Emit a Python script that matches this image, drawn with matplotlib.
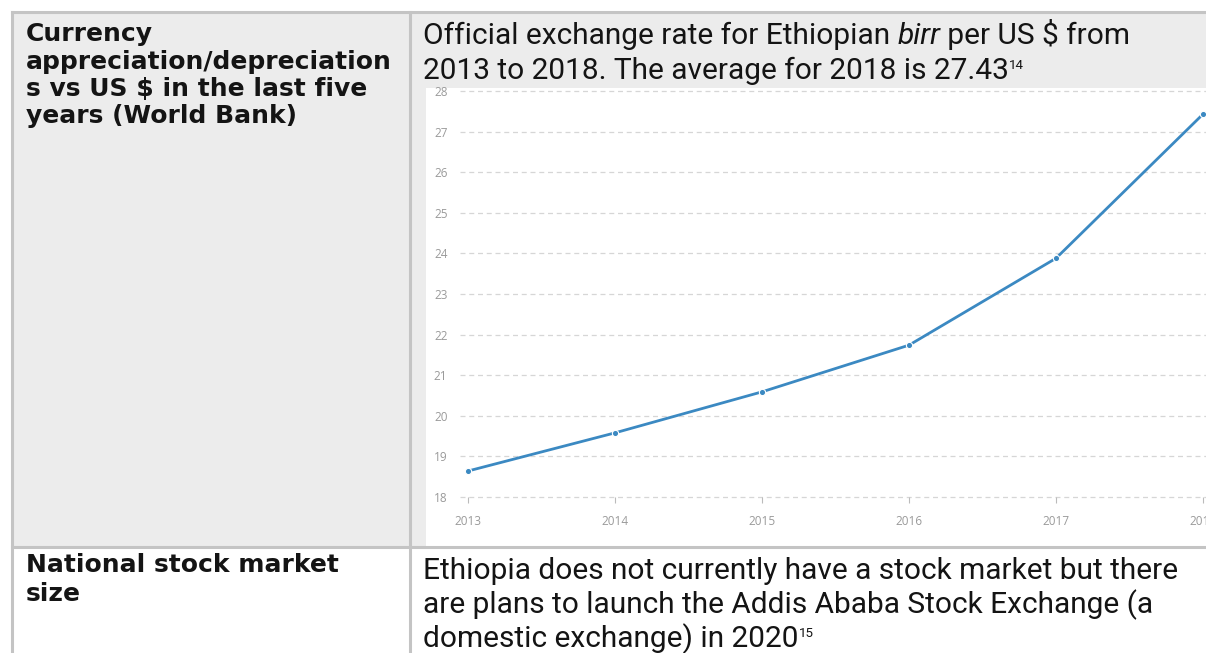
import matplotlib.pyplot as plt
from matplotlib.patches import Rectangle

years = [2013, 2014, 2015, 2016, 2017, 2018]
birr_per_usd = [18.64, 19.58, 20.59, 21.74, 23.88, 27.43]
y_ticks = [18, 19, 20, 21, 22, 23, 24, 25, 26, 27, 28]

W, H = 1206, 653
fig = plt.figure(figsize=(W / 100, H / 100), dpi=100)
bg = fig.add_axes([0, 0, 1, 1])
bg.set_xlim(0, W); bg.set_ylim(H, 0); bg.axis("off")

grey = "#ececec"; line = "#c4c4c4"; ink = "#141414"
# table backgrounds and borders
bg.add_patch(Rectangle((12, 12), 398, 535, fc=grey, ec="none"))
bg.add_patch(Rectangle((410, 12), W - 410, 535, fc=grey, ec="none"))
bg.add_patch(Rectangle((426, 88), W - 426, 459, fc="white", ec="none"))
for y in (12, 547):
    bg.plot([12, W], [y, y], color=line, lw=2.2)
for x in (12, 410):
    bg.plot([x, x], [12, H], color=line, lw=2.2)

rend = fig.canvas.get_renderer()

def runs(x, y, parts, size, family="Roboto"):
    for txt, style, sup in parts:
        t = bg.text(x, y - (10 if sup else 0), txt, fontsize=size * (0.45 if sup else 1),
                    family=family, style=style, color=ink, va="baseline", ha="left")
        x += t.get_window_extent(rend).width

left_font = dict(fontsize=18, weight="bold", family="DejaVu Sans", color=ink, va="baseline")
for i, s in enumerate(["Currency", "appreciation/depreciation", "s vs US $ in the last five",
                       "years (World Bank)"]):
    bg.text(26, 41 + i * 27.5, s, **left_font)
for i, s in enumerate(["National stock market", "size"]):
    bg.text(26, 572 + i * 29, s, **left_font)

sz = 21.5
runs(423, 44, [("Official exchange rate for Ethiopian ", "normal", False), ("birr", "italic", False),
               (" per US $ from", "normal", False)], sz)
runs(423, 79, [("2013 to 2018. The average for 2018 is 27.43", "normal", False), ("14", "normal", True)], sz)
runs(423, 579, [("Ethiopia does not currently have a stock market but there", "normal", False)], sz)
runs(423, 613, [("are plans to launch the Addis Ababa Stock Exchange (a", "normal", False)], sz)
runs(423, 647, [("domestic exchange) in 2020", "normal", False), ("15", "normal", True)], sz)

# embedded chart
ax = fig.add_axes([460 / W, 1 - 497 / H, (W - 460) / W, (497 - 88) / H])
ax.set_facecolor("none")
ax.set_xlim(2013 - 8 / 147, 2018 + 3 / 147)
ax.set_ylim(18, 28 + 3 / 40.6)
for v in y_ticks:
    ax.axhline(v, color="#d6d6d6", lw=0.9, ls=(0, (4, 3)), zorder=0, clip_on=False)
ax.plot(years, birr_per_usd, color="#3b89c2", lw=2.0, marker="o", ms=4.5,
        mec="white", mew=0.8, clip_on=False)
ax.set_yticks(y_ticks)
ax.set_xticks(years)
for s in ax.spines.values():
    s.set_visible(False)
ax.tick_params(axis="y", length=0, pad=9, labelsize=8.5, labelcolor="#9a9a9a")
ax.tick_params(axis="x", length=4, width=0.8, color="#bbbbbb", pad=9, labelsize=8.5, labelcolor="#9a9a9a")
for lab in ax.get_xticklabels() + ax.get_yticklabels():
    lab.set_family("Open Sans")

fig.savefig("out.png", dpi=100)
